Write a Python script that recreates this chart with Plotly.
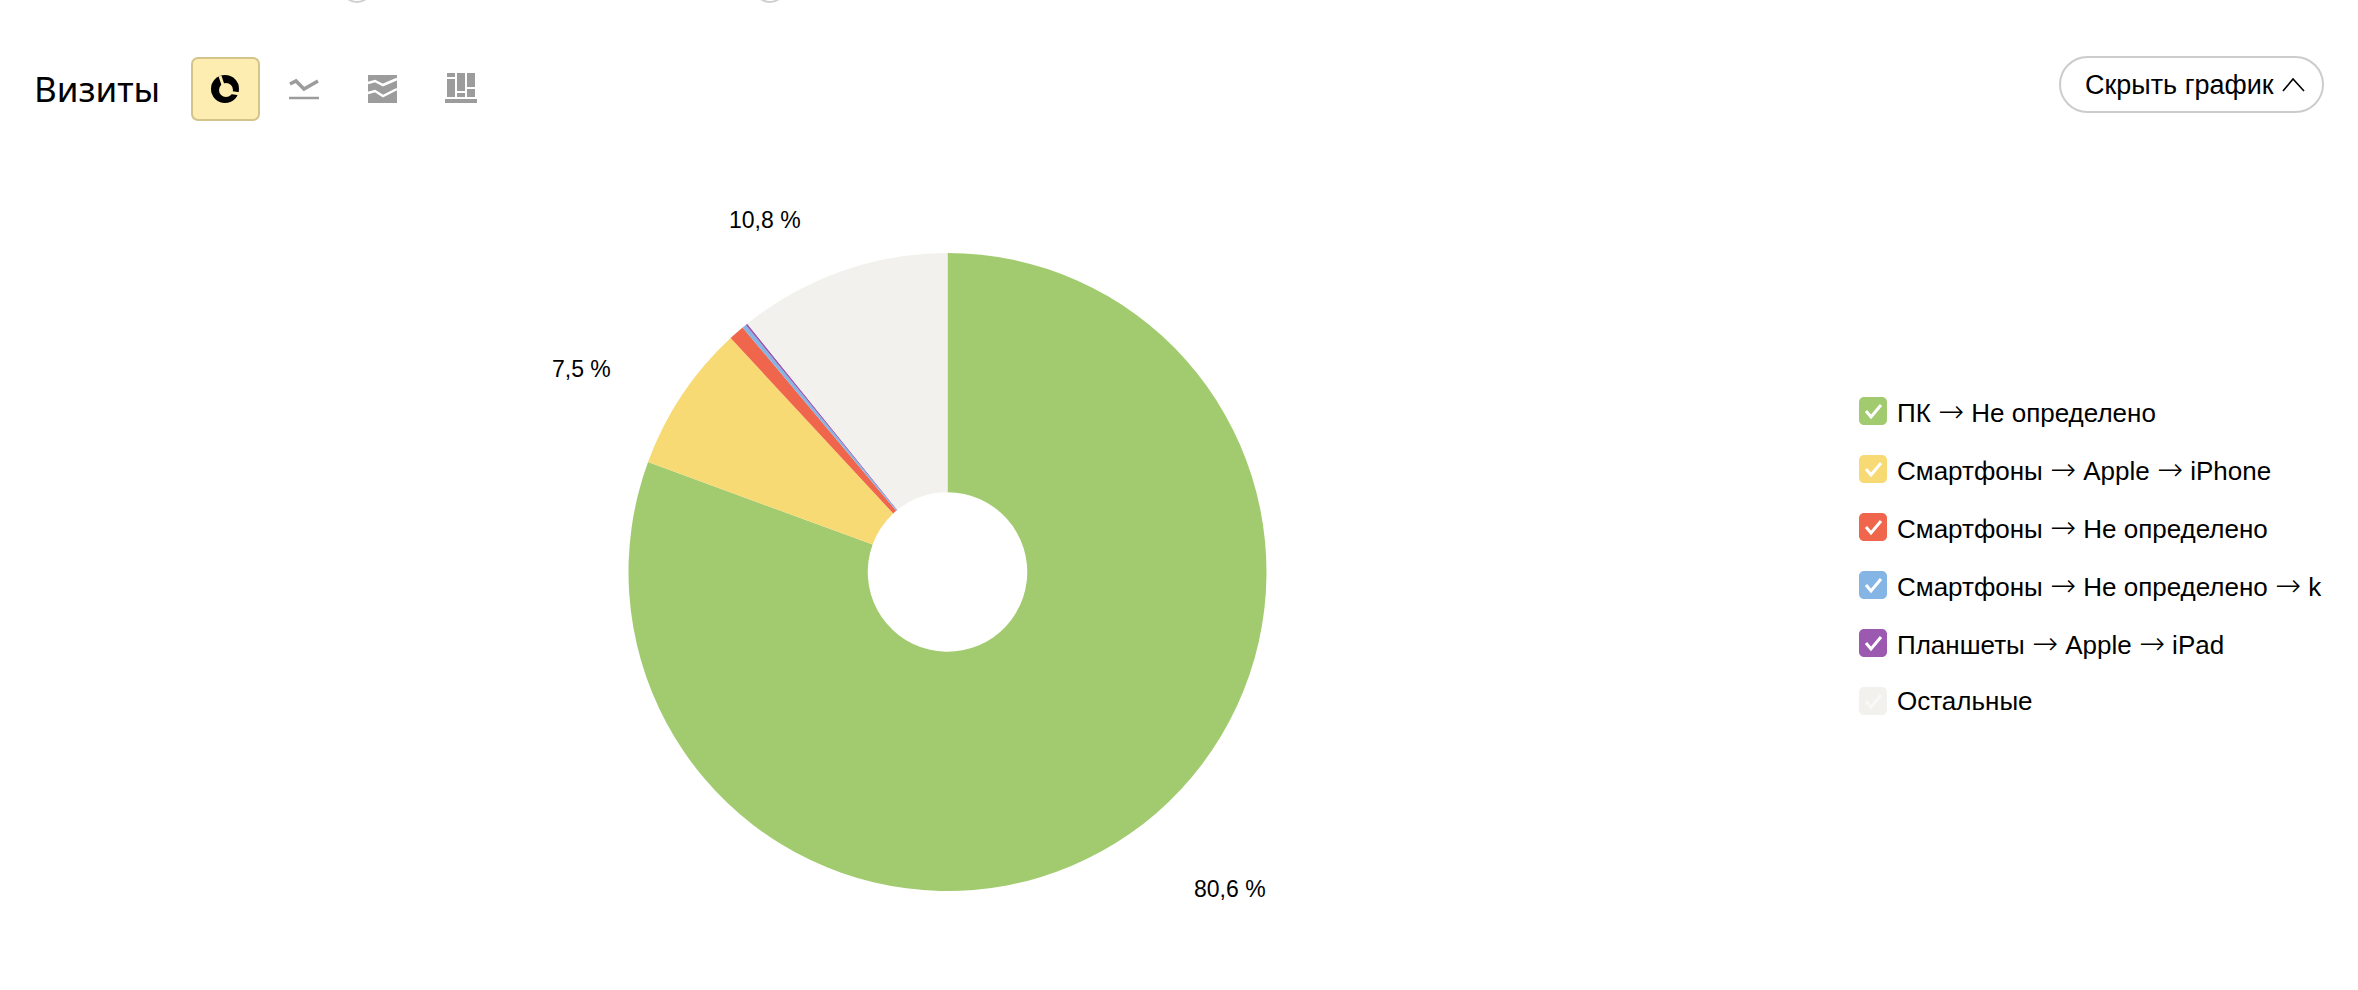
import plotly.graph_objects as go

W, H = 2358, 990

labels = ["ПК → Не определено", "Смартфоны → Apple → iPhone", "Смартфоны → Не определено",
          "Смартфоны → Не определено → k", "Планшеты → Apple → iPad", "Остальные"]
values = [80.6, 7.5, 0.8, 0.2, 0.1, 10.8]
colors = ["#A2CB70", "#F8DA74", "#EF664C", "#85B5E5", "#9B59B0", "#F2F1EE"]
title = "Визиты"
button_text = "Скрыть график"
slice_labels = {0: (1230, 889), 1: (581, 369), 5: (765, 220)}

SANS = "Liberation Sans, Arial, sans-serif"
GREY = "#9C9C9C"
ARROW = '<span style="font-family:DejaVu Sans;font-weight:200;font-size:31px">→</span>'

def px(x): return x / W
def py(y): return 1 - y / H

def path(points, close=False):
    d = "M " + " L ".join(f"{px(x):.6f},{py(y):.6f}" for x, y in points)
    return d + (" Z" if close else "")

def rrect(x0, y0, x1, y1, r):
    k = r * 0.45
    f = lambda x, y: f"{px(x):.6f},{py(y):.6f}"
    return (f"M {f(x0+r,y0)} L {f(x1-r,y0)} C {f(x1-k,y0)} {f(x1,y0+k)} {f(x1,y0+r)} "
            f"L {f(x1,y1-r)} C {f(x1,y1-k)} {f(x1-k,y1)} {f(x1-r,y1)} "
            f"L {f(x0+r,y1)} C {f(x0+k,y1)} {f(x0,y1-k)} {f(x0,y1-r)} "
            f"L {f(x0,y0+r)} C {f(x0,y0+k)} {f(x0+k,y0)} {f(x0+r,y0)} Z")

shapes, annotations = [], []

def add_path(d, fill=None, line=None, width=0):
    s = dict(type="path", path=d, xref="paper", yref="paper", line=dict(width=width, color=line or "rgba(0,0,0,0)"))
    if fill:
        s["fillcolor"] = fill
    shapes.append(s)

def add_circle(cx, cy, r, fill=None, line=None, width=0):
    s = dict(type="circle", xref="paper", yref="paper", x0=px(cx-r), x1=px(cx+r), y0=py(cy+r), y1=py(cy-r),
             line=dict(width=width, color=line or "rgba(0,0,0,0)"))
    if fill:
        s["fillcolor"] = fill
    shapes.append(s)

def add_text(x, y, text, size, anchor="left", font=SANS, color="#000000"):
    annotations.append(dict(x=px(x), y=py(y), xref="paper", yref="paper", text=text, showarrow=False,
                            xanchor=anchor, yanchor="middle", borderpad=0, borderwidth=0,
                            font=dict(family=font, size=size, color=color)))

# clipped circles at the top edge
add_circle(357, -13, 15, line="#CFCFCF", width=2)
add_circle(770, -13, 15, line="#CFCFCF", width=2)

# header
add_text(34, 88, title, 35, font="Noto Sans, sans-serif")
add_path(rrect(192, 58, 259, 120, 6), fill="#FDEDB0", line="#D3C48C", width=2)
add_circle(225, 89, 14, fill="#000000")
add_circle(226, 90, 7, fill="#FDEDB0")
add_path(path([(224, 88), (220, 76)]), line="#FDEDB0", width=3)
add_path(path([(227, 92), (241, 94)]), line="#FDEDB0", width=3)

add_path(path([(290, 84), (296, 81), (304, 89), (318, 81)]), line=GREY, width=3.5)
add_path(path([(289, 98), (319, 98)]), line=GREY, width=2.5)

add_path(path([(368, 75), (397, 75), (397, 103), (368, 103)], True), fill=GREY)
add_path(path([(368, 83), (375, 81), (383, 85), (397, 79)]), line="#FFFFFF", width=2.5)
add_path(path([(368, 93), (375, 91), (383, 96), (397, 89)]), line="#FFFFFF", width=2.5)

for x0, y0, x1, y1 in [(445, 99, 477, 103), (447, 73, 455, 77), (447, 79, 455, 97), (457, 73, 465, 91),
                       (457, 93, 465, 97), (467, 73, 475, 87), (467, 89, 475, 97)]:
    add_path(path([(x0, y0), (x1, y0), (x1, y1), (x0, y1)], True), fill=GREY)

# hide button
add_path(rrect(2060, 57, 2323, 112, 27.5), fill="#FFFFFF", line="#CCCCCC", width=2)
add_text(2085, 85, button_text, 27)
add_path(path([(2283, 91), (2293, 79), (2304, 91)]), line="#000000", width=1.6)

# legend
for i, (lab, col) in enumerate(zip(labels, colors)):
    yc = 411 + 58 * i
    add_path(rrect(1859, yc - 14, 1887, yc + 14, 5), fill=col)
    add_path(path([(1866, yc), (1871, yc + 6), (1881, yc - 6)]),
             line="#FFFFFF" if i < 5 else "#F8F8F6", width=3)
    add_text(1897, yc, lab.replace("→", ARROW), 26)

# slice labels
for i, (x, y) in slice_labels.items():
    add_text(x, y, f"{values[i]:.1f}".replace(".", ",") + " %", 23, anchor="center")

cx, cy, r = 947.5, 572, 319
fig = go.Figure(go.Pie(
    labels=labels, values=values, sort=False, direction="clockwise", rotation=0, hole=0.25,
    marker=dict(colors=colors, line=dict(width=0)), textinfo="none", hoverinfo="skip",
    domain=dict(x=[px(cx - r), px(cx + r)], y=[py(cy + r), py(cy - r)]),
))
fig.update_layout(width=W, height=H, margin=dict(l=0, r=0, t=0, b=0), showlegend=False,
                  paper_bgcolor="#FFFFFF", shapes=shapes, annotations=annotations)
fig.write_html("out.html", config=dict(displayModeBar=False),
               post_script="document.body.style.margin='0';document.body.style.overflow='hidden';")
